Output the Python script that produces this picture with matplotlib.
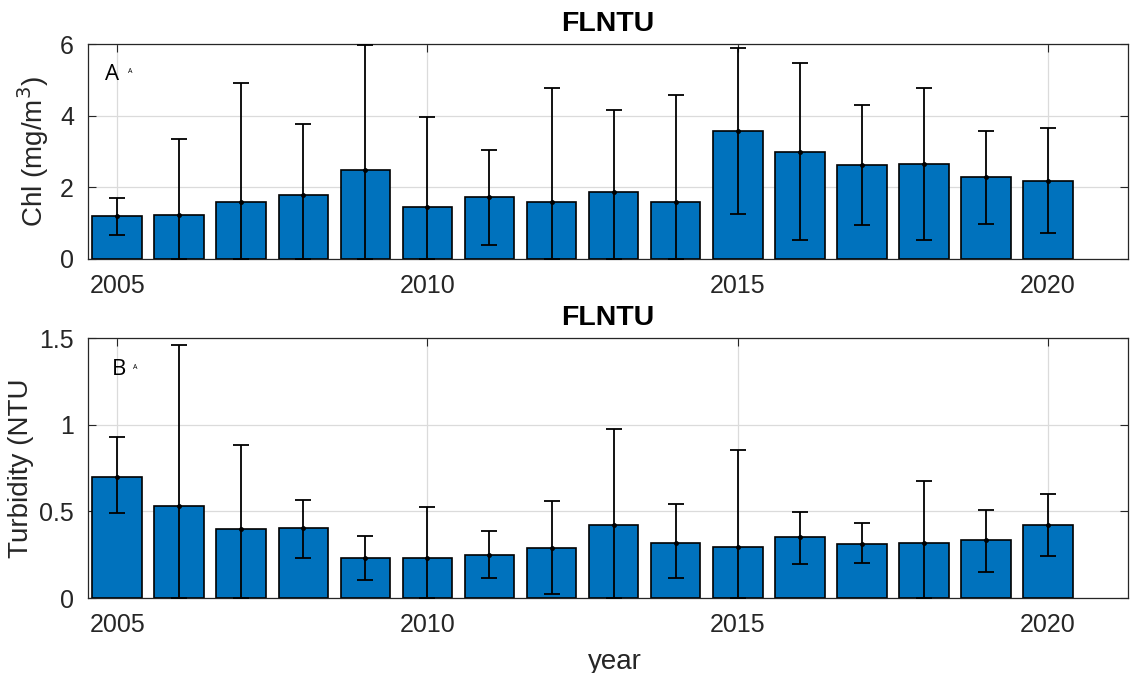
import numpy as np
import matplotlib
matplotlib.use("Agg")
import matplotlib.pyplot as plt

years = [2005, 2006, 2007, 2008, 2009, 2010, 2011, 2012,
         2013, 2014, 2015, 2016, 2017, 2018, 2019, 2020]

chl_mean = [1.19, 1.24, 1.60, 1.80, 2.47, 1.46, 1.72, 1.59,
            1.86, 1.60, 3.56, 2.99, 2.61, 2.65, 2.30, 2.17]
chl_upper = [1.69, 3.34, 4.91, 3.77, 5.97, 3.95, 3.03, 4.78,
             4.17, 4.59, 5.90, 5.47, 4.30, 4.77, 3.56, 3.65]
chl_lower = [0.68, 0.0, 0.0, 0.0, 0.0, 0.0, 0.40, 0.0,
             0.0, 0.0, 1.25, 0.52, 0.94, 0.52, 0.99, 0.73]

turb_mean = [0.70, 0.53, 0.40, 0.405, 0.23, 0.23, 0.25, 0.288,
             0.42, 0.32, 0.294, 0.35, 0.313, 0.32, 0.333, 0.42]
turb_upper = [0.93, 1.46, 0.88, 0.567, 0.36, 0.523, 0.386, 0.558,
              0.975, 0.54, 0.854, 0.496, 0.43, 0.673, 0.51, 0.60]
turb_lower = [0.49, 0.0, 0.0, 0.23, 0.106, 0.0, 0.114, 0.023,
              0.0, 0.115, 0.0, 0.196, 0.204, 0.0, 0.15, 0.24]

xticks = [2005, 2010, 2015, 2020]
chl_yticks = [0, 2, 4, 6]
chl_yticklabels = ["0", "2", "4", "6"]
turb_yticks = [0, 0.5, 1, 1.5]
turb_yticklabels = ["0", "0.5", "1", "1.5"]

plt.rcParams['font.family'] = ['Liberation Sans', 'DejaVu Sans']
BAR = '#0072BD'
TXT = (0.15, 0.15, 0.15)

fig = plt.figure(figsize=(11.3, 6.73), dpi=100)
W, H = 1130, 673

def make_ax(top, bottom):
    left, right = 88, 1128
    return fig.add_axes([left / W, 1 - bottom / H, (right - left) / W, (bottom - top) / H])

ax1 = make_ax(44, 259)
ax2 = make_ax(338, 598)

def draw(ax, mean, lower, upper, yticks, yticklabels, ylim, ylabel, letter,
         label_x, letter_pos, small_pos):
    y = np.array(mean)
    lo = y - np.array(lower)
    hi = np.array(upper) - y
    ax.bar(years, mean, width=0.8, color=BAR, edgecolor='black', linewidth=1.2, zorder=2)
    ax.errorbar(years, mean, yerr=[lo, hi], fmt='.', color='black', ecolor='black',
                elinewidth=1.3, capsize=6, capthick=1.3, markersize=5, zorder=3, clip_on=True)
    ax.set_xlim(2004.53, 2021.29)
    ax.set_ylim(*ylim)
    ax.set_xticks(xticks)
    ax.set_xticklabels([str(t) for t in xticks])
    ax.set_yticks(yticks)
    ax.set_yticklabels(yticklabels)
    ax.tick_params(direction='in', length=6, width=0.8, colors=TXT, labelsize=18,
                   top=True, right=True)
    ax.tick_params(axis='x', pad=11)
    ax.tick_params(axis='y', pad=10)
    ax.grid(True, color=(0.86, 0.86, 0.86), linewidth=0.9, zorder=0)
    ax.set_axisbelow(True)
    for s in ax.spines.values():
        s.set_color(TXT)
        s.set_linewidth(0.9)
    ax.set_title('FLNTU', fontsize=20.5, fontweight='bold', pad=9.5, color='black')
    ax.set_ylabel(ylabel, fontsize=20, color=TXT)
    ax.yaxis.set_label_coords(label_x, 0.5)
    ax.text(letter_pos[0], letter_pos[1], letter, transform=ax.transAxes, fontsize=16,
            family=['Open Sans', 'DejaVu Sans'], color='black', va='center', ha='left')
    ax.text(small_pos[0], small_pos[1], 'A', transform=ax.transAxes, fontsize=5,
            family=['Open Sans', 'DejaVu Sans'], color='black', va='center', ha='left')

draw(ax1, chl_mean, chl_lower, chl_upper, chl_yticks, chl_yticklabels, (0, 6),
     'Chl (mg/m$^3$)', 'A', -0.036, (0.016, 0.856), (0.038, 0.87))
draw(ax2, turb_mean, turb_lower, turb_upper, turb_yticks, turb_yticklabels, (0, 1.5),
     'Turbidity (NTU', 'B', -0.052, (0.023, 0.877), (0.043, 0.885))
ax2.set_xlabel('year', fontsize=20, color=TXT)
ax2.xaxis.set_label_coords(0.507, -0.197)

fig.savefig('out.png', dpi=100)
